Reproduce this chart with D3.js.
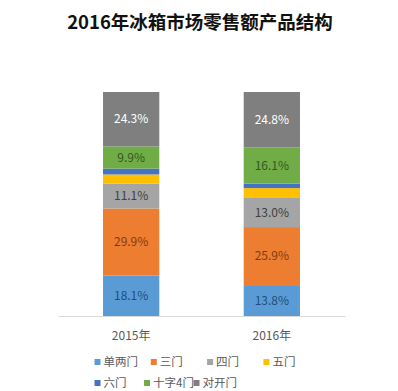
<!DOCTYPE html>
<html><head><meta charset="utf-8">
<script src="https://cdn.jsdelivr.net/npm/d3@7"></script>
<style>
html,body{margin:0;padding:0;background:#fff;}
svg{display:block;font-family:"Noto Sans CJK SC","Noto Sans",sans-serif;}
</style></head>
<body>
<svg id="chart" width="398" height="391"></svg>
<script>
const title = "2016年冰箱市场零售额产品结构";
const years = ["2015年", "2016年"];
const seriesNames = ["单两门", "三门", "四门", "五门", "六门", "十字4门", "对开门"];
const v2015 = [18.1, 29.9, 11.1, 4.1, 2.6, 9.9, 24.3];
const v2016 = [13.8, 25.9, 13.0, 4.4, 2.0, 16.1, 24.8];
const labelsShown = [true, true, true, false, false, true, true];
const colors = ["#5b9bd5", "#ed7d31", "#a5a5a5", "#ffc000", "#4472c4", "#70ad47", "#7f7f7f"];
const labelColors = ["#1f4e79", "#843c0c", "#404040", "#7f6000", "#203864", "#375623", "#ffffff"];

const svg = d3.select("#chart");

svg.append("text").attr("x", 200).attr("y", 29).attr("text-anchor", "middle")
  .attr("font-size", 18.5).attr("font-weight", "bold").attr("fill", "#111").text(title);

const x = d3.scaleBand().domain(years).range([58, 345]).paddingInner(0.6).paddingOuter(0.32);
const y = d3.scaleLinear().domain([0, 100]).range([316, 92]);

const rows = years.map((yr, i) => {
  const o = {year: yr};
  const vals = i === 0 ? v2015 : v2016;
  seriesNames.forEach((s, j) => o[s] = vals[j]);
  return o;
});
const stack = d3.stack().keys(seriesNames)(rows);

const g = svg.append("g");
stack.forEach((layer, si) => {
  g.selectAll(null).data(layer).enter().append("rect")
    .attr("x", d => x(d.data.year))
    .attr("width", x.bandwidth())
    .attr("y", d => y(d[1]))
    .attr("height", d => y(d[0]) - y(d[1]))
    .attr("fill", colors[si]);
  if (labelsShown[si]) {
    g.selectAll(null).data(layer).enter().append("text")
      .attr("x", d => x(d.data.year) + x.bandwidth() / 2)
      .attr("y", d => (y(d[0]) + y(d[1])) / 2)
      .attr("dy", "0.35em")
      .attr("text-anchor", "middle")
      .attr("font-size", 12)
      .attr("fill", labelColors[si])
      .text(d => (d[1] - d[0]).toFixed(1) + "%");
  }
});

// x axis
const xAxis = svg.append("g").attr("transform", "translate(0,316)")
  .call(d3.axisBottom(x).tickSize(0).tickPadding(15));
xAxis.select(".domain").attr("stroke", "#d9d9d9");
xAxis.selectAll("text").attr("font-size", 12).attr("fill", "#595959")
  .attr("font-family", "\"Noto Sans CJK SC\",sans-serif");

// legend
const legendRows = [[0, 1, 2, 3], [4, 5, 6]];
const legendStart = 94.5;
const legendStep = [56.3, 49.5];
const legendY = [362, 383];
legendRows.forEach((row, r) => {
  row.forEach((si, k) => {
    const lx = legendStart + k * legendStep[r];
    const item = svg.append("g").attr("transform", `translate(${lx},${legendY[r]})`);
    item.append("rect").attr("x", 0).attr("y", -3).attr("width", 6).attr("height", 6).attr("fill", colors[si]);
    item.append("text").attr("x", 9).attr("y", 0).attr("dy", "0.36em")
      .attr("font-size", 11.5).attr("fill", "#595959").text(seriesNames[si]);
  });
});
</script>
</body></html>
